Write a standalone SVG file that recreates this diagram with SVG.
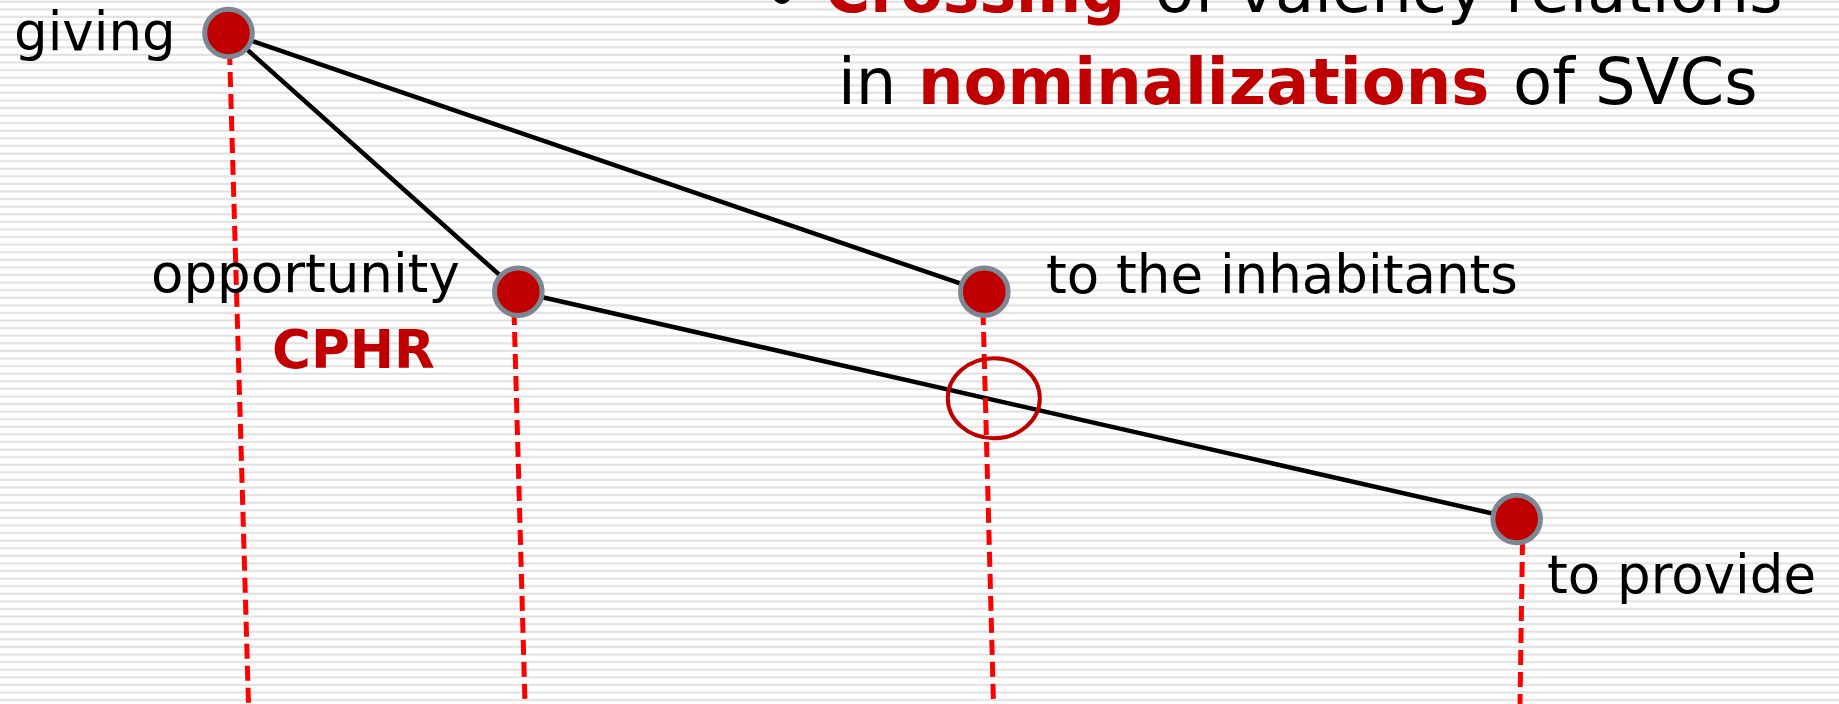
<svg xmlns="http://www.w3.org/2000/svg" width="1839" height="704" viewBox="0 0 1839 704">
<defs>
<pattern id="stripes" patternUnits="userSpaceOnUse" x="0" y="0" width="20" height="7.59">
<rect x="0" y="0.7" width="20" height="2" fill="#e0e0e0"/>
</pattern>
<style>
.t{font-family:"DejaVu Sans",Verdana,sans-serif;font-size:53px;fill:#000}
.title{font-family:"DejaVu Sans",Verdana,sans-serif;font-size:64px;fill:#000}
.b{font-weight:bold;fill:#c00000}
.edge{stroke:#000;stroke-width:4.5;fill:none;stroke-linecap:round}
.proj{stroke:#ff0000;stroke-width:5;fill:none;stroke-dasharray:15 7}
.node{fill:#c00000;stroke:#7c8794;stroke-width:5}
</style>
</defs>
<rect width="1839" height="704" fill="#ffffff"/>
<rect width="1839" height="704" fill="url(#stripes)"/>

<g id="title">
<circle cx="782" cy="-5" r="9" fill="#000"/>
<text class="title" y="12"><tspan x="825" class="b" textLength="300" lengthAdjust="spacingAndGlyphs">Crossing</tspan><tspan x="1155">of valency relations</tspan></text>
<text class="title" y="104"><tspan x="838">in</tspan><tspan x="918" class="b">nominalizations</tspan><tspan x="1513">of SVCs</tspan></text>
</g>

<g id="connectors">
<line class="edge" x1="228.5" y1="33" x2="984.3" y2="291.7"/>
<line class="edge" x1="228.5" y1="33" x2="518.3" y2="291.7"/>
<line class="edge" x1="518.3" y1="291.7" x2="1516.7" y2="519"/>
<line class="proj" x1="229.5" y1="50" x2="248.5" y2="704"/>
<line class="proj" x1="514" y1="310" x2="525" y2="704"/>
<line class="proj" x1="983" y1="310" x2="993.5" y2="704"/>
<line class="proj" x1="1522.5" y1="540" x2="1520" y2="704"/>
</g>

<g id="crossing-mark">
<ellipse cx="993.8" cy="398.3" rx="46" ry="40" fill="none" stroke="#c00000" stroke-width="4"/>
</g>

<g id="node-giving">
<circle class="node" cx="228.5" cy="33" r="23.8"/>
<text class="t" x="14" y="50">giving</text>
</g>
<g id="node-opportunity">
<circle class="node" cx="518.3" cy="291.7" r="23.8"/>
<text class="t" x="151" y="292">opportunity</text>
<text class="t b" x="272" y="368">CPHR</text>
</g>
<g id="node-inhabitants">
<circle class="node" cx="984.3" cy="291.7" r="23.8"/>
<text class="t" x="1046" y="292.5">to the inhabitants</text>
</g>
<g id="node-provide">
<circle class="node" cx="1516.7" cy="519" r="23.8"/>
<text class="t" x="1547" y="593">to provide</text>
</g>
</svg>
